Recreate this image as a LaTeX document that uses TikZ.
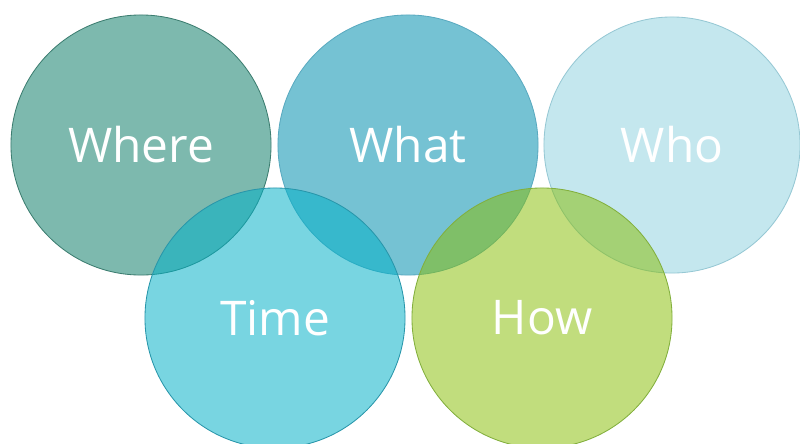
\documentclass[tikz,border=0pt]{standalone}
\usepackage{fontspec}
\setmainfont{Open Sans}

\definecolor{wherefill}{RGB}{125,185,174}
\definecolor{whereline}{RGB}{60,125,112}
\definecolor{whatfill}{RGB}{117,194,211}
\definecolor{whatline}{RGB}{90,170,192}
\definecolor{whofill}{RGB}{196,231,238}
\definecolor{wholine}{RGB}{150,200,212}
\definecolor{timefill}{RGB}{0,176,199}
\definecolor{timeline}{RGB}{40,150,170}
\definecolor{howfill}{RGB}{137,190,10}
\definecolor{howline}{RGB}{130,175,60}

\tikzset{
    bubble/.style={draw, circle, line width=0.6pt, minimum size=6.5cm,
        inner sep=0pt, text=white, font=\fontsize{34}{40}\selectfont},
    seethrough/.style={fill opacity=0.53, text opacity=1}
}

\begin{document}
\begin{tikzpicture}[x=0.025cm, y=-0.025cm]
    \useasboundingbox (0,0) rectangle (800,443);

    % top row
    \node[bubble, fill=wherefill, draw=whereline] (where) at (141,145) {Where};
    \node[bubble, fill=whatfill, draw=whatline] (what) at (408,145) {What};
    \node[bubble, fill=whofill, draw=wholine, minimum size=6.4cm] (who) at (672,145) {Who};

    % bottom row
    \node[bubble, seethrough, fill=timefill, draw=timeline] (time) at (275,318) {Time};
    \node[bubble, seethrough, fill=howfill, draw=howline] (how) at (542,318) {How};
\end{tikzpicture}
\end{document}
